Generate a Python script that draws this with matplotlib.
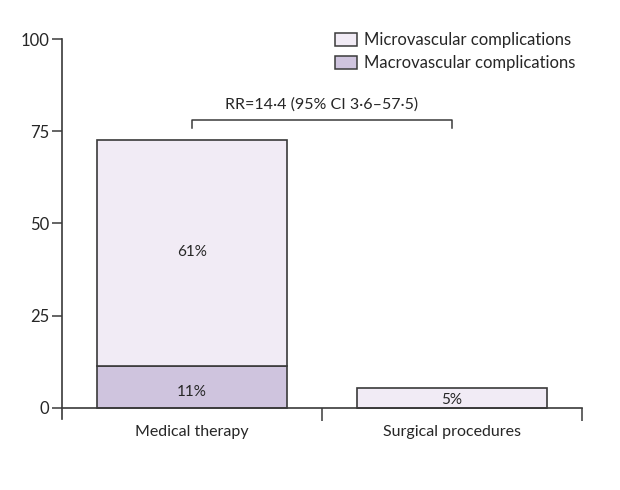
import matplotlib
matplotlib.use("Agg")
import matplotlib.pyplot as plt
from matplotlib.patches import Patch

categories = ["Medical therapy", "Surgical procedures"]
macro = [11.5, 0.0]
micro = [61.0, 5.5]
bar_labels_micro = ["61%", "5%"]
bar_labels_macro = ["11%", ""]
yticks = [0, 25, 50, 75, 100]
rr_text = "RR=14·4 (95% CI 3·6–57·5)"

plt.rcParams['font.family'] = ['Lato', 'DejaVu Sans']
txt = "#262626"
edge = "#3a3a3a"
c_micro = "#f1ebf5"
c_macro = "#cfc4de"

fig = plt.figure(figsize=(6.2, 4.9), dpi=100)
ax = fig.add_axes([62/620, (490-419)/490, 520/620, (419-39)/490])

x = list(range(len(categories)))
w = 0.727
ax.bar(x, macro, width=w, color=c_macro, edgecolor=edge, linewidth=1.2)
ax.bar(x, micro, width=w, bottom=macro, color=c_micro, edgecolor=edge, linewidth=1.2)

ax.set_xlim(-0.5, 1.5)
ax.set_ylim(-3, 100)
for s in ["top", "right"]:
    ax.spines[s].set_visible(False)
ax.spines["bottom"].set_position(("data", 0))
ax.spines["bottom"].set_color(edge)
ax.spines["left"].set_color(edge)
ax.spines["bottom"].set_linewidth(1.2)
ax.spines["left"].set_linewidth(1.2)

ax.set_yticks(yticks)
ax.tick_params(axis="y", direction="out", length=7, width=1.1, color=edge,
               labelsize=12, labelcolor=txt, pad=2)
ax.set_xticks(x)
ax.set_xticklabels(categories)
ax.set_xticks([0.5, 1.5], minor=True)
ax.tick_params(axis="x", which="major", length=0, labelsize=11.5, labelcolor=txt, pad=12)
ax.tick_params(axis="x", which="minor", direction="out", length=9, width=1.1, color=edge)

# labels in bars
ax.text(0, 42.3, bar_labels_micro[0], ha="center", va="center", fontsize=11, color=txt)
ax.text(0, 4.2, bar_labels_macro[0], ha="center", va="center", fontsize=11, color=txt)
ax.text(1, 2.2, bar_labels_micro[1], ha="center", va="center", fontsize=11, color=txt)

# bracket
ax.plot([0, 0, 1, 1], [75.8, 78, 78, 75.8], color=edge, lw=1.1, clip_on=False)
ax.text(0.5, 80.3, rr_text, ha="center", va="bottom", fontsize=11.5, color=txt)

handles = [Patch(facecolor=c_micro, edgecolor=edge, linewidth=1.1, label="Microvascular complications"),
           Patch(facecolor=c_macro, edgecolor=edge, linewidth=1.1, label="Macrovascular complications")]
leg = ax.legend(handles=handles, loc="upper right", bbox_to_anchor=(1.0, 1.035),
                frameon=False, fontsize=12, handlelength=1.3, handleheight=0.85,
                handletextpad=0.42, labelspacing=0.42, borderaxespad=0)
for t in leg.get_texts():
    t.set_color(txt)

fig.savefig("out.png", dpi=100, facecolor="white")
